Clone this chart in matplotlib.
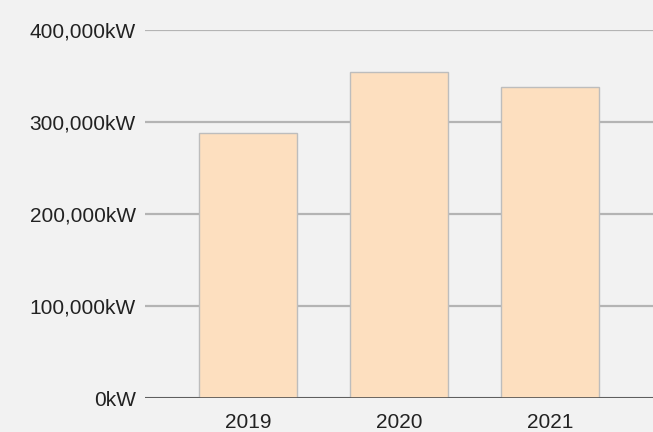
import matplotlib.pyplot as plt

years = ['2019', '2020', '2021']
values = [288000, 354000, 338000]
yticks = [0, 100000, 200000, 300000, 400000]
ytick_labels = ['0kW', '100,000kW', '200,000kW', '300,000kW', '400,000kW']

plt.rcParams['font.family'] = ['Liberation Sans', 'DejaVu Sans']

fig = plt.figure(figsize=(6.53, 4.32), dpi=100, facecolor='#f2f2f2')
ax = fig.add_axes([145 / 653, 34 / 432, 508 / 653, 368 / 432])
ax.set_facecolor('#f2f2f2')

x = range(len(years))
ax.bar(x, values, width=0.65, color='#fddfbf', edgecolor='#bdbdbd', linewidth=1, zorder=3)

ax.set_xlim(-0.68, 2.68)
ax.set_ylim(0, 400000)
ax.set_yticks(yticks)
ax.set_yticklabels(ytick_labels)
ax.set_xticks(list(x))
ax.set_xticklabels(years)

ax.grid(axis='y', color='#b4b4b4', linewidth=1.6, zorder=0)
ax.axhline(0, color='#444444', linewidth=1.8, zorder=4)

for s in ax.spines.values():
    s.set_visible(False)
ax.tick_params(axis='both', length=0, labelsize=15, colors='#222222')
ax.tick_params(axis='y', pad=6.5)
ax.tick_params(axis='x', pad=11)

fig.savefig('out.png', dpi=100, facecolor=fig.get_facecolor())
